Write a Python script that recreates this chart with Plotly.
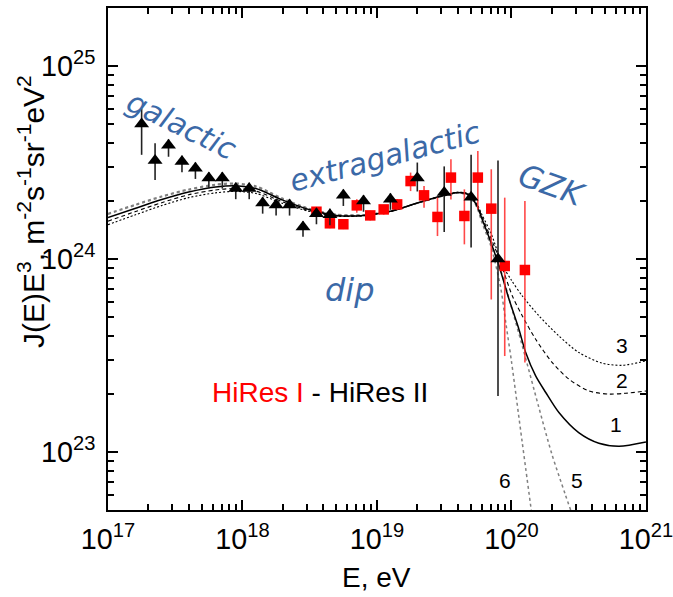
import numpy as np
import plotly.graph_objects as go

# ---- HiRes II (black triangles): log10 E, log10 J*E^3, error-bar ends (log10)
hr2_logE = [17.25, 17.35, 17.45, 17.55, 17.65, 17.75, 17.85, 17.95, 18.05, 18.15, 18.25,
            18.35, 18.45, 18.55, 18.65, 18.75, 18.90, 19.10, 19.30, 19.50, 19.70, 19.90]
hr2_logJ = [24.70, 24.51, 24.59, 24.505, 24.47, 24.42, 24.42, 24.365, 24.365, 24.29, 24.28,
            24.28, 24.166, 24.235, 24.23, 24.33, 24.30, 24.31, 24.42, 24.345, 24.32, 24.00]
hr2_hi = [24.78, 24.60, 24.62, 24.535, 24.50, 24.45, 24.45, 24.395, 24.395, 24.32, 24.31,
          24.31, 24.196, 24.265, 24.26, 24.36, 24.33, 24.34, 24.50, 24.48, 24.54, 24.51]
hr2_lo = [24.54, 24.41, 24.53, 24.45, 24.415, 24.365, 24.365, 24.31, 24.31, 24.235, 24.225,
          24.225, 24.115, 24.18, 24.175, 24.275, 24.245, 24.255, 24.35, 24.14, 24.06, 23.29]

# ---- HiRes I (red squares)
hr1_logE = [18.55, 18.65, 18.75, 18.85, 18.95, 19.05, 19.15, 19.25, 19.35, 19.45, 19.55,
            19.65, 19.75, 19.85, 19.95, 20.10]
hr1_logJ = [24.245, 24.185, 24.18, 24.278, 24.226, 24.257, 24.283, 24.404, 24.33, 24.218,
            24.422, 24.223, 24.422, 24.261, 23.964, 23.943]
hr1_hi = [24.27, 24.21, 24.205, 24.31, 24.25, 24.28, 24.31, 24.448, 24.378, 24.318,
          24.517, 24.361, 24.56, 24.465, 24.318, 24.301]
hr1_lo = [24.22, 24.16, 24.155, 24.24, 24.20, 24.23, 24.255, 24.352, 24.266, 24.119,
          24.309, 24.076, 24.257, 23.79, 23.497, 23.463]

# ---- model spectra (log10 E, log10 J*E^3)
core_logE = [17.0, 17.2, 17.4, 17.6, 17.8, 17.95, 18.1, 18.3, 18.5, 18.7, 18.9,
             19.1, 19.3, 19.5, 19.6, 19.68, 19.74]

m1_logE = core_logE + [19.78, 19.84, 19.908, 19.982, 20.056, 20.106, 20.18, 20.255,
                       20.353, 20.5, 20.65, 20.8, 21.0]
m1_logJ = [24.215, 24.262, 24.308, 24.347, 24.373, 24.380, 24.365, 24.305, 24.255,
           24.226, 24.226, 24.247, 24.290, 24.330, 24.345, 24.333, 24.28,
           24.21, 24.10, 23.964, 23.791, 23.635, 23.515, 23.394, 23.308,
           23.204, 23.10, 23.045, 23.03, 23.052]

m2_logE = core_logE + [19.78, 19.84, 19.91, 20.007, 20.081, 20.18, 20.304, 20.428,
                       20.576, 20.725, 20.85, 21.0]
m2_logJ = [24.196, 24.245, 24.292, 24.333, 24.358, 24.365, 24.352, 24.296, 24.250,
           24.224, 24.225, 24.247, 24.290, 24.330, 24.345, 24.335, 24.285,
           24.22, 24.12, 24.00, 23.808, 23.705, 23.584, 23.463, 23.377,
           23.316, 23.30, 23.304, 23.316]

m3_logE = core_logE + [19.78, 19.85, 19.932, 20.0, 20.081, 20.205, 20.353, 20.502,
                       20.675, 20.823, 21.0]
m3_logJ = [24.178, 24.228, 24.277, 24.318, 24.343, 24.350, 24.340, 24.288, 24.246,
           24.222, 24.224, 24.246, 24.290, 24.330, 24.346, 24.338, 24.29,
           24.23, 24.13, 23.97, 23.89, 23.808, 23.705, 23.601, 23.515,
           23.46, 23.449, 23.472]

m5_logE = core_logE + [19.78, 19.85, 19.93, 20.0, 20.1, 20.2, 20.3, 20.4, 20.5]
m5_logJ = [24.232, 24.278, 24.322, 24.358, 24.383, 24.389, 24.374, 24.311, 24.259,
           24.230, 24.228, 24.248, 24.290, 24.328, 24.342, 24.330, 24.275,
           24.20, 24.08, 23.92, 23.75, 23.50, 23.24, 22.99, 22.78, 22.58]

m6_logE = core_logE + [19.78, 19.85, 19.92, 19.96, 20.0, 20.08, 20.17]
m6_logJ = [24.236, 24.282, 24.326, 24.362, 24.387, 24.393, 24.378, 24.314, 24.261,
           24.231, 24.229, 24.249, 24.290, 24.328, 24.342, 24.330, 24.272,
           24.19, 24.06, 23.85, 23.66, 23.47, 23.05, 22.58]

curve_labels = ["3", "2", "1", "6", "5"]
curve_label_logE = [20.82, 20.82, 20.78, 19.95, 20.49]
curve_label_logJ = [23.55, 23.37, 23.14, 22.85, 22.85]

# plot-area box in pixels (left, right, top, bottom)
L, R, T, B = 108, 646, 8, 510


def p10(v):
    return np.power(10.0, np.asarray(v, dtype=float))


def px(xpix, ypix):
    """pixel position -> paper coordinates of the plot area"""
    return (xpix - L) / (R - L), (B - ypix) / (B - T)


fig = go.Figure()

model_styles = [
    (m6_logE, m6_logJ, dict(color="#808080", width=1.5, dash="dot")),
    (m5_logE, m5_logJ, dict(color="#808080", width=1.5, dash="dot")),
    (m3_logE, m3_logJ, dict(color="black", width=1.1, dash="2px,2px")),
    (m2_logE, m2_logJ, dict(color="black", width=1.1, dash="4px,3px")),
    (m1_logE, m1_logJ, dict(color="black", width=1.5)),
]
for le, lj, ln in model_styles:
    fig.add_trace(go.Scatter(x=p10(le), y=p10(lj), mode="lines",
                             line=dict(shape="spline", smoothing=0.8, **ln),
                             showlegend=False, hoverinfo="skip"))

# HiRes I
y1 = p10(hr1_logJ)
fig.add_trace(go.Scatter(
    x=p10(hr1_logE), y=y1, mode="markers",
    marker=dict(symbol="square", size=10.5, color="#ff0000"),
    error_y=dict(type="data", symmetric=False,
                 array=p10(hr1_hi) - y1, arrayminus=y1 - p10(hr1_lo),
                 color="rgba(255,40,40,0.85)", thickness=1.6, width=0),
    showlegend=False))

# HiRes II
y2 = p10(hr2_logJ)
fig.add_trace(go.Scatter(
    x=p10(hr2_logE), y=y2, mode="markers",
    marker=dict(symbol="triangle-up", size=13, color="black"),
    error_y=dict(type="data", symmetric=False,
                 array=p10(hr2_hi) - y2, arrayminus=y2 - p10(hr2_lo),
                 color="#222222", thickness=1.6, width=0),
    showlegend=False))

blue = "#3b69a7"
ann_font = dict(family="DejaVu Sans", color=blue, style="italic")
region_text = [
    (182, 125, "galactic", 26, 30),
    (385, 157, "extragalactic", -15, 30),
    (552, 185, "GZK", 20, 31),
    (350, 290, "dip", 0, 32),
]
for xp, yp, txt, ang, sz in region_text:
    ax, ay = px(xp, yp)
    fig.add_annotation(x=ax, y=ay, xref="paper", yref="paper",
                       xanchor="center", yanchor="middle", showarrow=False,
                       text=txt, textangle=ang, font=dict(size=sz, **ann_font))

ax, ay = px(320, 392)
fig.add_annotation(
    x=ax, y=ay, xref="paper", yref="paper", xanchor="center", yanchor="middle",
    text="<span style='color:#ff0000'>HiRes I</span> - HiRes II",
    showarrow=False, font=dict(family="Liberation Sans", size=28, color="black"))

for t, le, lj in zip(curve_labels, curve_label_logE, curve_label_logJ):
    fig.add_annotation(x=le, y=lj, xref="x", yref="y", text=t, showarrow=False,
                       xanchor="center", yanchor="middle",
                       font=dict(family="Liberation Sans", size=21, color="black"))

axis_common = dict(
    type="log", showline=True, linecolor="black", linewidth=2, mirror="ticks",
    ticks="inside", ticklen=10, tickwidth=2, tickcolor="black",
    showgrid=False, zeroline=False, dtick=1, exponentformat="power",
    ticklabeloverflow="allow", automargin=False,
    tickfont=dict(family="Liberation Sans", size=23, color="black"),
    minor=dict(ticks="inside", ticklen=6, tickwidth=1.5, tickcolor="black",
               dtick="D1", showgrid=False),
)

fig.update_xaxes(range=[17, 21.0005], ticklabelstandoff=4, **axis_common)
fig.update_yaxes(range=[np.log10(5e22), np.log10(2e25)], ticklabelstandoff=6, **axis_common)

fig.update_layout(
    width=673, height=597,
    margin=dict(l=L, r=673 - R, t=T, b=597 - B),
    paper_bgcolor="white", plot_bgcolor="white",
    font=dict(family="Liberation Sans", color="black"),
)

# axis titles as free text
ax, ay = px(376, 578)
fig.add_annotation(x=ax, y=ay, xref="paper", yref="paper",
                   xanchor="center", yanchor="middle",
                   text="E, eV", showarrow=False,
                   font=dict(family="Liberation Sans", size=28, color="black"))
ax, ay = px(31, 212)
fig.add_annotation(x=ax, y=ay, xref="paper", yref="paper",
                   xanchor="center", yanchor="middle",
                   text="J(E)E<sup>3</sup>, m<sup>-2</sup>s<sup>-1</sup>sr<sup>-1</sup>eV<sup>2</sup>",
                   textangle=-90, showarrow=False,
                   font=dict(family="Liberation Sans", size=30, color="black"))

fig.write_html("out.html")
